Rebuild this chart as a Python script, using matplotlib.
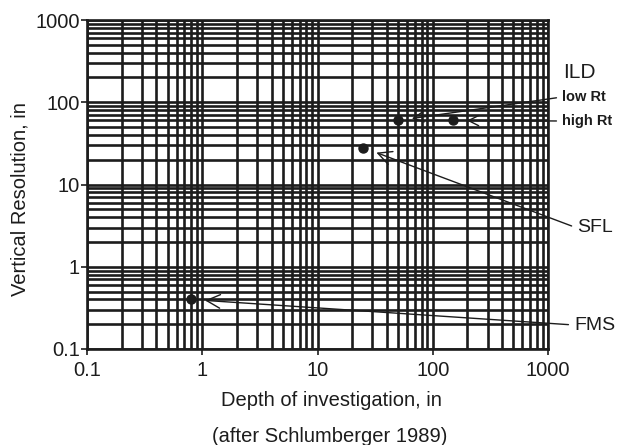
import numpy as np
import matplotlib
matplotlib.use('Agg')
import matplotlib.pyplot as plt
from matplotlib.ticker import LogLocator, FixedLocator, FixedFormatter, NullFormatter

plt.rcParams['font.family'] = ['Liberation Sans', 'DejaVu Sans']

# logging tools: depth of investigation (in) vs vertical resolution (in)
tools = ['SFL', 'ILD low Rt', 'ILD high Rt', 'FMS']
depth = [25, 50, 150, 0.8]
vres = [28, 60, 60, 0.4]

tick_vals = [0.1, 1, 10, 100, 1000]
tick_labels = ['0.1', '1', '10', '100', '1000']

ink = '#1c1c1c'

fig = plt.figure(figsize=(6.29, 4.45), dpi=100)
ax = fig.add_axes([87 / 629, 1 - 349 / 445, (548 - 87) / 629, (349 - 20) / 445])

ax.set_xscale('log')
ax.set_yscale('log')
ax.set_xlim(tick_vals[0], tick_vals[-1])
ax.set_ylim(tick_vals[0], tick_vals[-1])

for axis in (ax.xaxis, ax.yaxis):
    axis.set_major_locator(FixedLocator(tick_vals))
    axis.set_major_formatter(FixedFormatter(tick_labels))
    axis.set_minor_locator(LogLocator(base=10, subs=np.arange(2, 10), numticks=20))
    axis.set_minor_formatter(NullFormatter())

ax.grid(True, which='both', color=ink, lw=1.9)
ax.set_axisbelow(True)
for sp in ax.spines.values():
    sp.set_color(ink)
    sp.set_linewidth(1.9)
ax.tick_params(which='major', length=4, width=1.2, color=ink, labelsize=14.5,
               labelcolor=ink)
ax.tick_params(axis='y', pad=1)
ax.tick_params(axis='x', pad=5)
ax.tick_params(which='minor', length=0)

# points
ax.plot(depth, vres, 'o', color=ink, ms=6.5, zorder=5, clip_on=False)

arrow = dict(arrowstyle='->,head_length=0.7,head_width=0.35', lw=1.0, color=ink,
             shrinkA=2, shrinkB=10, relpos=(0, 0.5))

def fig_xy(px, py):
    return (px / 629, 1 - py / 445)

# ILD heading
fig.text(*fig_xy(563, 72), 'ILD', fontsize=15, color=ink, va='center', ha='left')

label_pos = {
    'SFL': (577, 228, 'SFL', 14, 'normal'),
    'ILD low Rt': (562, 97, 'low Rt', 10.5, 'bold'),
    'ILD high Rt': (562, 121, 'high Rt', 10.5, 'bold'),
    'FMS': (574, 325, 'FMS', 14, 'normal'),
}
for name, x, y in zip(tools, depth, vres):
    px, py, txt, fs, fw = label_pos[name]
    ax.annotate(txt, xy=(x, y), xycoords='data',
                xytext=fig_xy(px, py), textcoords='figure fraction',
                fontsize=fs, fontweight=fw, color=ink, va='center', ha='left',
                arrowprops=arrow, annotation_clip=False)

fig.text(*fig_xy(331, 401), 'Depth of investigation, in', fontsize=14.5, color=ink,
         ha='center', va='center')
fig.text(*fig_xy(330, 436), '(after Schlumberger 1989)', fontsize=14.5, color=ink,
         ha='center', va='center')
fig.text(*fig_xy(20, 199), 'Vertical Resolution, in', fontsize=14.5, color=ink,
         ha='center', va='center', rotation=90)

fig.savefig('out.png', dpi=100)
